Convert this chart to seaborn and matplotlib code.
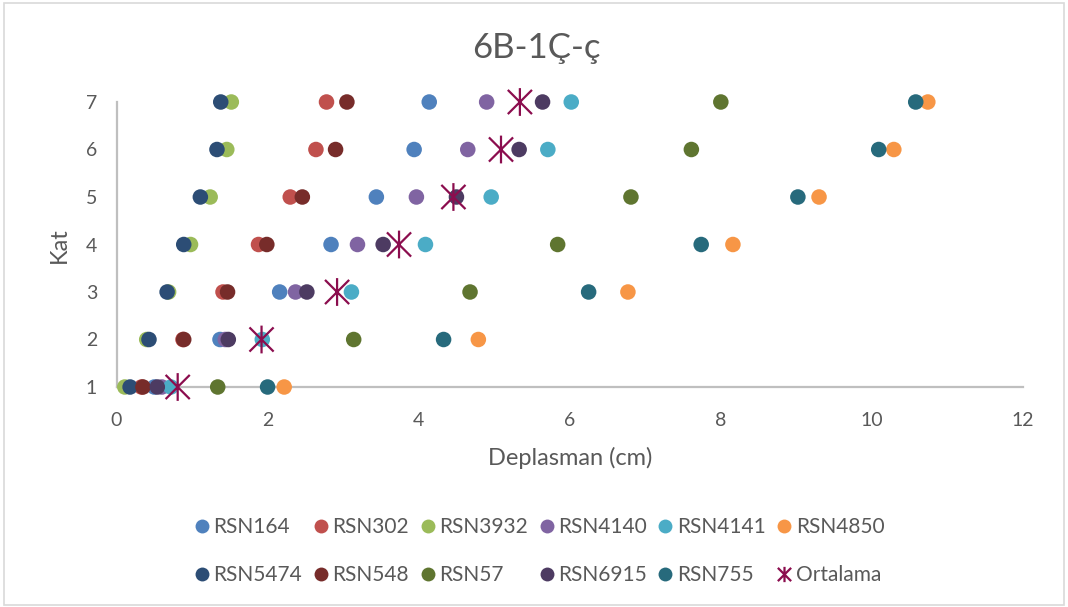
import numpy as np
import pandas as pd
import matplotlib
matplotlib.use("Agg")
import matplotlib.pyplot as plt
from matplotlib.path import Path
from matplotlib.lines import Line2D
from matplotlib.patches import Rectangle
import seaborn as sns

# Floor levels
kat = [1, 2, 3, 4, 5, 6, 7]

# Displacement (cm) per record, floors 1..7
rsn164  = [0.50, 1.37, 2.16, 2.84, 3.44, 3.94, 4.14]
rsn302  = [0.33, 0.88, 1.41, 1.88, 2.30, 2.64, 2.78]
rsn3932 = [0.11, 0.40, 0.69, 0.98, 1.24, 1.46, 1.52]
rsn4140 = [0.60, 1.44, 2.37, 3.19, 3.97, 4.65, 4.90]
rsn4141 = [0.72, 1.93, 3.11, 4.09, 4.96, 5.71, 6.02]
rsn4850 = [2.22, 4.79, 6.77, 8.16, 9.30, 10.29, 10.74]
rsn5474 = [0.18, 0.43, 0.67, 0.89, 1.11, 1.33, 1.38]
rsn548  = [0.35, 0.89, 1.47, 1.99, 2.46, 2.90, 3.05]
rsn57   = [1.34, 3.14, 4.68, 5.84, 6.81, 7.61, 8.00]
rsn6915 = [0.54, 1.48, 2.52, 3.53, 4.50, 5.33, 5.64]
rsn755  = [2.00, 4.33, 6.25, 7.74, 9.02, 10.09, 10.58]
ortalama = [0.81, 1.92, 2.92, 3.74, 4.46, 5.09, 5.34]

series_names = ["RSN164", "RSN302", "RSN3932", "RSN4140", "RSN4141", "RSN4850",
                "RSN5474", "RSN548", "RSN57", "RSN6915", "RSN755"]
series_values = [rsn164, rsn302, rsn3932, rsn4140, rsn4141, rsn4850,
                 rsn5474, rsn548, rsn57, rsn6915, rsn755]
series_colors = ["#4F81BD", "#C0504D", "#9BBB59", "#8064A2", "#4BACC6", "#F79646",
                 "#2C4D75", "#772C2A", "#5F7530", "#4D3B62", "#276A7C"]
avg_color = "#8B0D4E"

title = "6B-1Ç-ç"
x_title = "Deplasman (cm)"
y_title = "Kat"
x_ticks = [0, 2, 4, 6, 8, 10, 12]
y_ticks = [1, 2, 3, 4, 5, 6, 7]

sns.set_theme(style="white")
plt.rcParams["font.family"] = ["Lato", "DejaVu Sans"]

text_color = "#595959"
axis_color = "#BFBFBF"

fig = plt.figure(figsize=(10.68, 6.07), dpi=100)
W, H = 1068, 607
ax = fig.add_axes([116.5 / W, (H - 387) / H, (1023 - 116.5) / W, (387 - 102) / H])

# Asterisk marker: an X crossed by a vertical stroke
star = Path([(-1, -1), (1, 1), (-1, 1), (1, -1), (0, -1.15), (0, 1.15)],
            [Path.MOVETO, Path.LINETO, Path.MOVETO, Path.LINETO, Path.MOVETO, Path.LINETO])

df = pd.DataFrame({
    "Deplasman": np.concatenate(series_values),
    "Kat": np.tile(kat, len(series_names)),
    "Seri": np.repeat(series_names, len(kat)),
})

palette = dict(zip(series_names, series_colors))
for name in series_names:
    sub = df[df["Seri"] == name]
    sns.scatterplot(data=sub, x="Deplasman", y="Kat", color=palette[name], s=125,
                    edgecolor="none", linewidth=0, ax=ax, legend=False,
                    clip_on=False, zorder=3)

avg_df = pd.DataFrame({"Deplasman": ortalama, "Kat": kat})
sns.scatterplot(data=avg_df, x="Deplasman", y="Kat", marker=star, s=400,
                color=avg_color, edgecolor=avg_color, facecolor="none",
                linewidth=1.6, ax=ax, legend=False, clip_on=False, zorder=4)

ax.set_xlim(0, 12)
ax.set_ylim(1, 7)
ax.set_xticks(x_ticks)
ax.set_yticks(y_ticks)
ax.set_xticklabels([str(t) for t in x_ticks])
ax.set_yticklabels([str(t) for t in y_ticks])
ax.tick_params(axis="both", length=0, labelsize=14, colors=text_color)
ax.tick_params(axis="x", pad=18)
ax.tick_params(axis="y", pad=14)
for side in ("top", "right"):
    ax.spines[side].set_visible(False)
for side in ("left", "bottom"):
    ax.spines[side].set_color(axis_color)
    ax.spines[side].set_linewidth(1.6)
ax.grid(False)

ax.set_xlabel(x_title, fontsize=17, color=text_color)
ax.set_ylabel(y_title, fontsize=17, color=text_color)
ax.xaxis.set_label_coords((570 - 116.5) / 906.5, (387 - 447) / 285)
ax.yaxis.set_label_coords((70 - 116.5) / 906.5, (387 - 245) / 285)
fig.text(536 / W, 1 - 48 / H, title, ha="center", va="center", fontsize=25, color=text_color)

# Legend laid out row by row in six columns
handles = [Line2D([], [], linestyle="none", marker="o", markersize=10,
                  markerfacecolor=c, markeredgecolor="none", label=n)
           for n, c in zip(series_names, series_colors)]
handles.append(Line2D([], [], linestyle="none", marker=star, markersize=11,
                      markerfacecolor="none", markeredgecolor=avg_color,
                      markeredgewidth=1.6, label="Ortalama"))
row1, row2 = handles[:6], handles[6:]
ordered = [h for pair in zip(row1, row2) for h in pair]
leg = fig.legend(handles=ordered, loc="center", bbox_to_anchor=(540 / W, 1 - 551 / H),
                 ncol=6, frameon=False, fontsize=15, handlelength=0.6,
                 handletextpad=0.25, columnspacing=0.6, labelspacing=1.35,
                 labelcolor=text_color)

fig.add_artist(Rectangle((4 / W, 2 / H), 1060 / W, 602 / H, transform=fig.transFigure,
                         fill=False, edgecolor="#D9D9D9", linewidth=1.2))

fig.savefig("out.png", dpi=100)
